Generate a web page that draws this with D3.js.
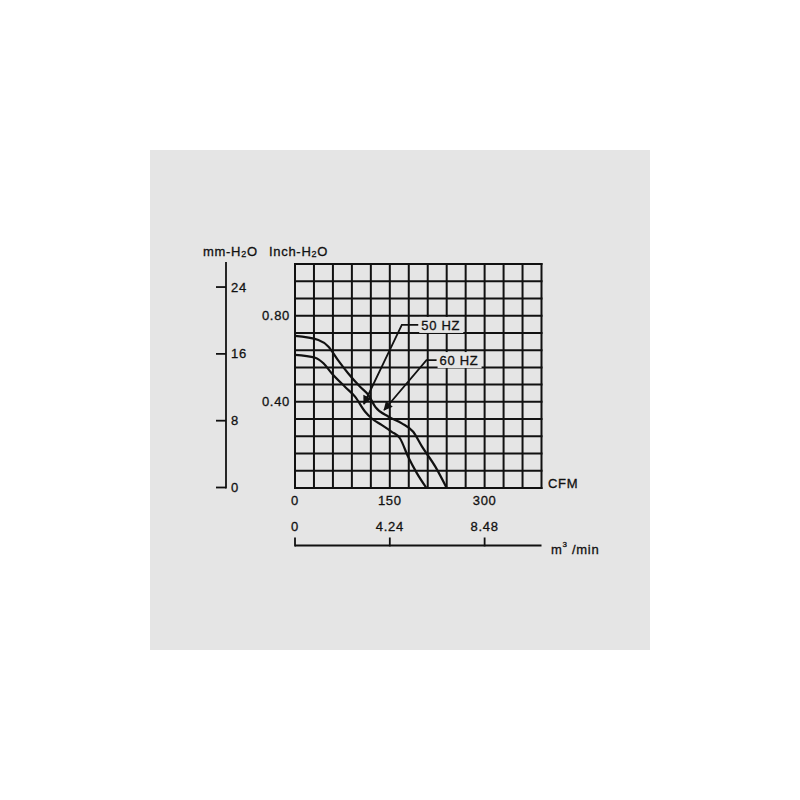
<!DOCTYPE html>
<html>
<head>
<meta charset="utf-8">
<script src="https://cdn.jsdelivr.net/npm/d3@7"></script>
<style>
  body { margin: 0; background: #fff; }
  text { font-family: "Liberation Sans", Arial, sans-serif; fill: #111; stroke: #111; stroke-width: 0.3px; letter-spacing: 0.7px; }
</style>
</head>
<body>
<div id="chart"></div>
<script>
// fan curve, static pressure (inch H2O) vs air flow (CFM)
var hz60 = [[0,0.706],[37,0.687],[53,0.656],[68,0.594],[84,0.533],[103,0.470],[116,0.432],
            [127,0.377],[148,0.331],[169,0.300],[187,0.261],[201,0.192],[222,0.099],[240,0]];
var hz50 = [[0,0.618],[32,0.605],[45,0.579],[58,0.533],[79,0.470],[95,0.424],[111,0.354],
            [121,0.324],[137,0.293],[153,0.261],[166,0.231],[179,0.145],[193,0.068],[208,0]];
var cfmTicks = [0, 150, 300];
var m3Ticks = [0, 4.24, 8.48];
var inchTicks = [0.40, 0.80];
var mmTicks = [0, 8, 16, 24];
// label, arrow tip, elbow, end of leader  (CFM, inch)
var notes = [
  {label: "50 HZ", tip: [109, 0.39], elbow: [169, 0.757], end: [195, 0.757]},
  {label: "60 HZ", tip: [141, 0.362], elbow: [208, 0.594], end: [224, 0.594]}
];

var width = 800, height = 800;
var fs = 13;
var svg = d3.select("#chart").append("svg")
            .attr("width", width)
            .attr("height", height);

svg.append("rect").attr("x", 150).attr("y", 150)
   .attr("width", 500).attr("height", 500).attr("fill", "#e5e5e5");

var x = d3.scaleLinear().domain([0, 390]).range([295, 541.5]);
var y = d3.scaleLinear().domain([0, 1.04]).range([488, 264]);
var xm = d3.scaleLinear().domain([0, 390 * 4.24 / 150]).range([295, 541.5]);
var ymm = d3.scaleLinear().domain([0, 27]).range([487.5, 262]);

// grid
var g = svg.append("g").attr("stroke", "#111").attr("stroke-width", 2);
g.selectAll(".v").data(d3.range(0, 391, 30)).enter().append("line")
  .attr("x1", function(d){ return x(d); }).attr("x2", function(d){ return x(d); })
  .attr("y1", y(0) + 1).attr("y2", y(1.04) - 1);
g.selectAll(".h").data(d3.range(0, 14)).enter().append("line")
  .attr("y1", function(d){ return y(d * 0.08); }).attr("y2", function(d){ return y(d * 0.08); })
  .attr("x1", x(0) - 1).attr("x2", x(390) + 1);

// curves
var valueLine = d3.line()
                  .x(function(d){ return x(d[0]); })
                  .y(function(d){ return y(d[1]); })
                  .curve(d3.curveMonotoneX);
[hz60, hz50].forEach(function(s){
  svg.append("path").attr("d", valueLine(s))
     .attr("fill", "none").attr("stroke", "#111").attr("stroke-width", 2.2);
});

// annotations
svg.append("defs").append("marker")
   .attr("id", "head").attr("viewBox", "0 0 10 10")
   .attr("refX", 9).attr("refY", 5)
   .attr("markerWidth", 12).attr("markerHeight", 9)
   .attr("markerUnits", "userSpaceOnUse")
   .attr("orient", "auto")
   .append("path").attr("d", "M0,0L10,5L0,10z").attr("fill", "#111");

notes.forEach(function(n){
  svg.append("polyline")
     .attr("points", [n.end, n.elbow, n.tip].map(function(p){ return x(p[0]) + "," + y(p[1]); }).join(" "))
     .attr("fill", "none").attr("stroke", "#111").attr("stroke-width", 1.8)
     .attr("marker-end", "url(#head)");
  svg.append("rect")
     .attr("x", x(n.end[0]) + 1).attr("y", y(n.end[1]) - 8)
     .attr("width", 44).attr("height", 16).attr("fill", "#e5e5e5");
  svg.append("text").attr("x", x(n.end[0]) + 3).attr("y", y(n.end[1]))
     .attr("dy", "0.35em").attr("font-size", fs).text(n.label);
});

// inch axis labels
svg.selectAll(".inch").data(inchTicks).enter().append("text")
   .attr("x", 290).attr("y", function(d){ return y(d); })
   .attr("dy", "0.35em").attr("text-anchor", "end").attr("font-size", fs)
   .text(d3.format(".2f"));

// mm axis
var mm = svg.append("g").attr("transform", "translate(226,0)");
mm.append("line").attr("x1", 0).attr("x2", 0)
  .attr("y1", ymm(27)).attr("y2", ymm(0) + 1)
  .attr("stroke", "#111").attr("stroke-width", 1.8);
mm.selectAll(".t").data(mmTicks).enter().append("line")
  .attr("x1", -10).attr("x2", 0)
  .attr("y1", function(d){ return ymm(d); }).attr("y2", function(d){ return ymm(d); })
  .attr("stroke", "#111").attr("stroke-width", 1.8);
mm.selectAll(".l").data(mmTicks).enter().append("text")
  .attr("x", 5).attr("y", function(d){ return ymm(d); })
  .attr("dy", "0.35em").attr("font-size", fs).text(function(d){ return d; });

// titles
var t1 = svg.append("text").attr("x", 203).attr("y", 256).attr("font-size", fs);
t1.append("tspan").text("mm-H");
t1.append("tspan").attr("font-size", 9).attr("dy", 1).text("2");
t1.append("tspan").attr("dy", -1).text("O");
var t2 = svg.append("text").attr("x", 269).attr("y", 256).attr("font-size", fs);
t2.append("tspan").text("Inch-H");
t2.append("tspan").attr("font-size", 9).attr("dy", 1).text("2");
t2.append("tspan").attr("dy", -1).text("O");

// CFM labels
svg.selectAll(".cfm").data(cfmTicks).enter().append("text")
   .attr("x", function(d){ return x(d); }).attr("y", 500)
   .attr("dy", "0.35em").attr("text-anchor", "middle").attr("font-size", fs)
   .text(function(d){ return d; });
svg.append("text").attr("x", 548).attr("y", 483).attr("dy", "0.35em")
   .attr("font-size", fs).text("CFM");

// m3/min axis
var ma = svg.append("g").attr("transform", "translate(0,545.5)");
ma.append("line").attr("x1", xm(0)).attr("x2", x(390))
  .attr("stroke", "#111").attr("stroke-width", 1.8);
ma.selectAll(".t").data(m3Ticks).enter().append("line")
  .attr("x1", function(d){ return xm(d); }).attr("x2", function(d){ return xm(d); })
  .attr("y1", -8).attr("y2", 0.9)
  .attr("stroke", "#111").attr("stroke-width", 1.8);
ma.selectAll(".l").data(m3Ticks).enter().append("text")
  .attr("x", function(d){ return xm(d); }).attr("y", -19)
  .attr("dy", "0.35em").attr("text-anchor", "middle").attr("font-size", fs)
  .text(function(d){ return d === 0 ? "0" : d3.format(".2f")(d); });
var mu = ma.append("text").attr("x", 551).attr("y", 8).attr("font-size", fs);
mu.append("tspan").text("m");
mu.append("tspan").attr("font-size", 8).attr("dy", -7).text("3");
mu.append("tspan").attr("dy", 7).text(" /min");
</script>
</body>
</html>
